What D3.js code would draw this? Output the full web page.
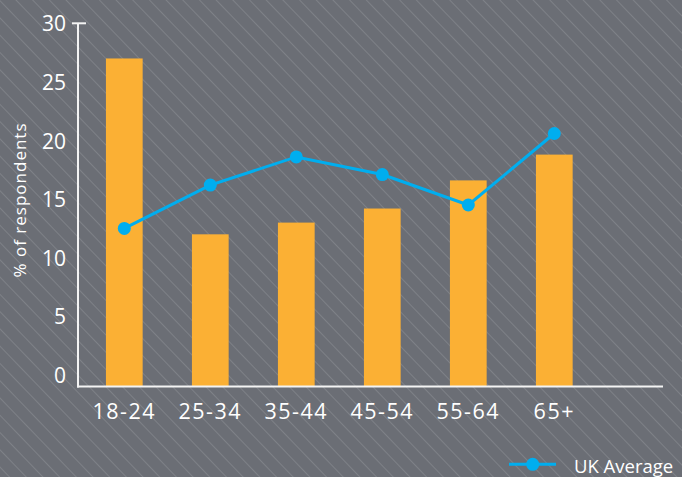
<!DOCTYPE html>
<html>
<head>
<meta charset="utf-8">
<script src="https://cdn.jsdelivr.net/npm/d3@7"></script>
<style>
  html, body { margin: 0; padding: 0; background: #6b6e75; }
  svg { display: block; }
  text { font-family: "Open Sans", "Noto Sans", sans-serif; fill: #ffffff; }
</style>
</head>
<body>
<script>
const categories = ["18-24", "25-34", "35-44", "45-54", "55-64", "65+"];
const barValues = [27.0, 12.0, 13.0, 14.2, 16.6, 18.8];
const ukAverage = [12.5, 16.2, 18.6, 17.1, 14.5, 20.6];
const yTicks = [0, 5, 10, 15, 20, 25, 30];
const yTitle = "% of respondents";
const legendLabel = "UK Average";

const W = 682, H = 477;
const svg = d3.select("body").append("svg").attr("width", W).attr("height", H);

// background with diagonal stripes
const defs = svg.append("defs");
const pat = defs.append("pattern")
  .attr("id", "stripes").attr("patternUnits", "userSpaceOnUse")
  .attr("width", 12).attr("height", 12)
  .attr("patternTransform", "rotate(46)");
pat.append("rect").attr("width", 12).attr("height", 12).attr("fill", "#6b6e75");
pat.append("line").attr("x1", 0).attr("y1", 0.5).attr("x2", 12).attr("y2", 0.5)
  .attr("stroke", "rgba(255,255,255,0.13)").attr("stroke-width", 1);
svg.append("rect").attr("width", W).attr("height", H).attr("fill", "url(#stripes)");

const x = d3.scaleBand().domain(categories).range([81.3, 597.3])
  .paddingInner(0.573).paddingOuter(0.2865);
const y = d3.scaleLinear().domain([0, 30]).range([375, 23.3]);
const baseY = 386.5;
const axisX = 78;

// bars
svg.append("g").selectAll("rect").data(barValues).join("rect")
  .attr("x", (d, i) => x(categories[i]))
  .attr("width", x.bandwidth())
  .attr("y", d => y(d))
  .attr("height", d => baseY - y(d))
  .attr("fill", "#fbb034");

// axes lines
svg.append("line").attr("x1", axisX).attr("x2", axisX).attr("y1", y(30)).attr("y2", baseY + 1)
  .attr("stroke", "#f4f4f4").attr("stroke-width", 2);
svg.append("line").attr("x1", axisX - 6).attr("x2", axisX + 8).attr("y1", y(30)).attr("y2", y(30))
  .attr("stroke", "#f4f4f4").attr("stroke-width", 2);
svg.append("line").attr("x1", axisX - 1).attr("x2", 663).attr("y1", baseY).attr("y2", baseY)
  .attr("stroke", "#f4f4f4").attr("stroke-width", 2);

// y axis labels
const yAxis = svg.append("g").attr("transform", `translate(${axisX},0)`)
  .call(d3.axisLeft(y).tickValues(yTicks).tickSize(0).tickPadding(12));
yAxis.select(".domain").remove();
yAxis.selectAll("text").attr("fill", "#fff").attr("dy", "0.36em")
  .style("font-size", "21px").style("font-family", '"Open Sans", sans-serif');

// x axis labels
const xAxis = svg.append("g").attr("transform", `translate(0,${baseY})`)
  .call(d3.axisBottom(x).tickSize(0).tickPadding(0));
xAxis.select(".domain").remove();
xAxis.selectAll("text").attr("fill", "#fff").attr("y", 32).attr("dy", 0)
  .style("font-size", "21.5px").style("letter-spacing", "1.5px")
  .style("font-family", '"Open Sans", sans-serif');

// y title
svg.append("text")
  .attr("transform", `translate(26,200) rotate(-90)`)
  .attr("text-anchor", "middle")
  .style("font-size", "17px").style("letter-spacing", "1px")
  .text(yTitle);

// line series
const cx = (d, i) => x(categories[i]) + x.bandwidth() / 2;
const line = d3.line().x(cx).y(d => y(d));
svg.append("path").datum(ukAverage).attr("d", line)
  .attr("fill", "none").attr("stroke", "#00aeef").attr("stroke-width", 3);
svg.append("g").selectAll("circle").data(ukAverage).join("circle")
  .attr("cx", cx).attr("cy", d => y(d)).attr("r", 6.5).attr("fill", "#00aeef");

// legend
const lg = svg.append("g");
lg.append("line").attr("x1", 509).attr("x2", 556).attr("y1", 464.3).attr("y2", 464.3)
  .attr("stroke", "#00aeef").attr("stroke-width", 3);
lg.append("circle").attr("cx", 532.7).attr("cy", 464.3).attr("r", 6.5).attr("fill", "#00aeef");
lg.append("text").attr("x", 574).attr("y", 472.5).style("font-size", "18.5px").text(legendLabel);
</script>
</body>
</html>
